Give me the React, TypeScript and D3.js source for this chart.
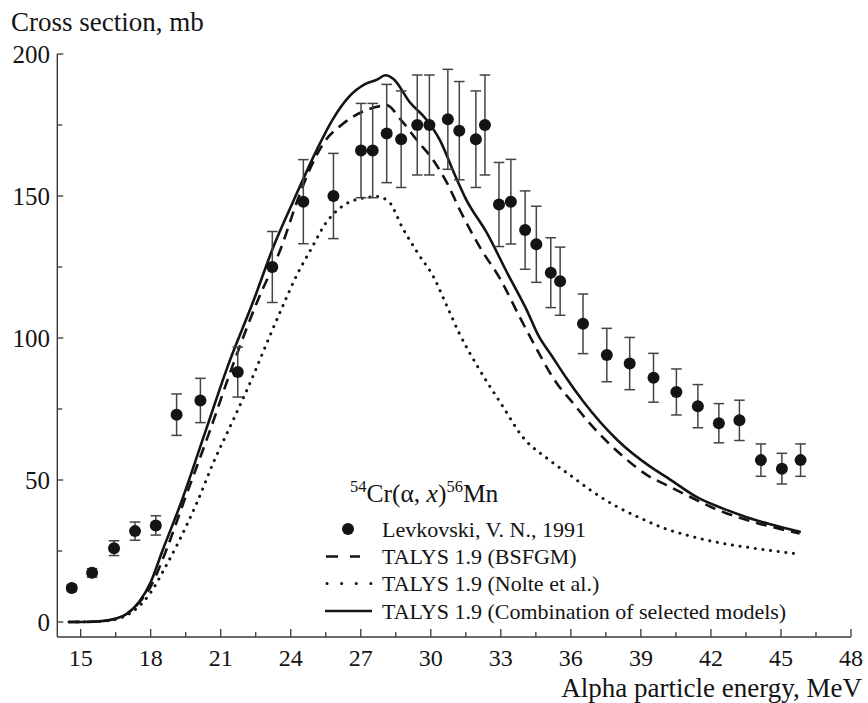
import React from "react";
import * as d3 from "d3";

// Experimental data: Levkovski, V. N., 1991
const expE = [14.62, 15.49, 16.43, 17.33, 18.22, 19.11, 20.13, 21.73, 23.21, 24.54, 25.83, 27.01, 27.51, 28.11, 28.73, 29.42, 29.94, 30.73, 31.22, 31.93, 32.32, 32.92, 33.43, 34.04, 34.52, 35.14, 35.54, 36.52, 37.54, 38.52, 39.54, 40.52, 41.44, 42.34, 43.22, 44.14, 45.04, 45.84];
const expSigma = [12, 17.3, 26, 32, 34, 73, 78, 88, 125, 148, 150, 166, 166, 172, 170, 175, 175, 177, 173, 170, 175, 147, 148, 138, 133, 123, 120, 105, 94, 91, 86, 81, 76, 70, 71, 57, 54, 57];
const expErr = [1, 1.5, 2.6, 3.2, 3.4, 7.3, 7.8, 8.8, 12.5, 14.8, 15, 16.6, 16.6, 17.3, 17, 17.6, 17.6, 17.6, 17.3, 17, 17.6, 14.8, 14.9, 13.8, 13.4, 12.3, 12, 10.5, 9.4, 9.2, 8.6, 8.1, 7.6, 6.9, 7.1, 5.7, 5.4, 5.7];

// TALYS 1.9 (Combination of selected models)
const combE = [14.5, 15.5, 16.0, 16.5, 17.0, 17.5, 18.0, 18.5, 19.3, 20.3, 21.3, 22.4, 23.3, 24.1, 25.1, 25.8, 26.5, 27.2, 27.7, 28.05, 28.4, 29.1, 29.8, 30.4, 31.0, 31.5, 32.4, 33.3, 34.1, 34.6, 35.2, 35.8, 36.5, 38.0, 39.4, 40.1, 41.5, 42.5, 43.5, 44.5, 45.85];
const combV = [0, 0.1, 0.4, 1.2, 3, 7, 14, 25, 42, 66, 90, 113, 133, 148, 166, 177, 185, 189.5, 191, 192.5, 191.2, 183, 177, 169.5, 158, 149, 137, 122.5, 110, 101, 93.5, 86, 78, 64, 54.7, 51, 43.5, 40, 37, 34.5, 31.7];

// TALYS 1.9 (BSFGM)
const bsE = [14.5, 15.5, 16.0, 16.5, 17.0, 17.5, 18.0, 18.7, 19.45, 20.5, 21.5, 22.6, 23.55, 24.4, 24.85, 25.4, 26.25, 27.25, 27.7, 28.1, 28.7, 29.4, 30.1, 30.7, 31.25, 32.1, 33.0, 33.8, 34.25, 35.4, 36.1, 36.8, 37.55, 38.25, 39.25, 40.1, 41.1, 42.0, 43.0, 44.0, 45.0, 45.8];
const bsV = [0, 0.1, 0.4, 1.1, 3, 6.8, 12.5, 26, 43, 66.5, 90, 113.5, 131, 151, 160, 168.5, 175.5, 180.3, 181.4, 182, 177, 169.7, 162.7, 154.5, 145, 132, 120.4, 107.5, 100.5, 84, 77, 70, 63.5, 58.2, 51.8, 48.2, 44.1, 40.5, 37.3, 34.8, 32.7, 31.2];

// TALYS 1.9 (Nolte et al.)
const noE = [14.5, 15.5, 16.0, 16.5, 17.0, 17.5, 17.97, 18.6, 19.2, 20.0, 20.7, 21.5, 22.3, 23.0, 23.75, 24.25, 24.85, 25.5, 26.4, 27.05, 27.7, 28.2, 28.8, 29.45, 30.15, 30.65, 31.2, 32.0, 33.0, 34.0, 35.0, 36.0, 37.0, 38.0, 39.0, 40.0, 41.0, 42.0, 43.0, 44.0, 45.0, 45.7];
const noV = [0, 0.1, 0.3, 0.9, 2.5, 5.5, 10, 18.9, 28.3, 42.4, 56.4, 70.5, 85, 98.7, 113, 122, 131, 140.4, 147.4, 149.2, 149.8, 148, 138.6, 129.8, 121, 112, 102, 90, 77, 64.5, 57.5, 51.5, 45.5, 40.5, 36.5, 33, 30.5, 28.5, 27, 25.8, 24.7, 24];

const xMajorTicks = [15, 18, 21, 24, 27, 30, 33, 36, 39, 42, 45, 48];
const xMinorTicks = [16.5, 19.5, 22.5, 25.5, 28.5, 31.5, 34.5, 37.5, 40.5, 43.5, 46.5];
const yMajorTicks = [0, 50, 100, 150, 200];
const yMinorTicks = [25, 75, 125, 175];

const legendLabels = [
  "Levkovski, V. N., 1991",
  "TALYS 1.9 (BSFGM)",
  "TALYS 1.9 (Nolte et al.)",
  "TALYS 1.9 (Combination of selected models)",
];

const FONT = "'Liberation Serif', 'Times New Roman', serif";
const INK = "#141414";
const AXIS = "#3a3a3a";

export default function App() {
  const x = d3.scaleLinear().domain([14, 48]).range([57.3, 851]);
  const y = d3.scaleLinear().domain([0, 200]).range([622, 54]);
  const yBottom = 637;

  const line = d3
    .line<[number, number]>()
    .x((d) => x(d[0]))
    .y((d) => y(d[1]))
    .curve(d3.curveMonotoneX);

  const pts = (es: number[], vs: number[]) => es.map((e, i) => [e, vs[i]] as [number, number]);

  const legX0 = 325;
  const legX1 = 372;
  const legText = 382;
  const legRows = [529, 556.5, 583.5, 611];

  return (
    <svg
      width={868}
      height={703}
      style={{ position: "absolute", left: 0, top: 0, background: "#fff" }}
      fontFamily={FONT}
    >
      <rect x={0} y={0} width={868} height={703} fill="#fff" />
      {/* Axes */}
      <line x1={x(14)} x2={x(14)} y1={y(200)} y2={yBottom} stroke={AXIS} strokeWidth={1.4} />
      <line x1={x(14)} x2={x(48)} y1={yBottom} y2={yBottom} stroke={AXIS} strokeWidth={1.4} />
      {yMajorTicks.map((t) => (
        <g key={"ym" + t}>
          <line x1={x(14)} x2={x(14) + 6} y1={y(t)} y2={y(t)} stroke={AXIS} strokeWidth={1.3} />
          <text x={50} y={y(t)} dy="0.35em" textAnchor="end" fontSize={25} fill={INK}>
            {t}
          </text>
        </g>
      ))}
      {yMinorTicks.map((t) => (
        <line key={"yn" + t} x1={x(14)} x2={x(14) + 5} y1={y(t)} y2={y(t)} stroke={AXIS} strokeWidth={1.3} />
      ))}
      {xMajorTicks.map((t) => (
        <g key={"xm" + t}>
          <line x1={x(t)} x2={x(t)} y1={yBottom} y2={yBottom - 8} stroke={AXIS} strokeWidth={1.3} />
          <text x={x(t)} y={666} textAnchor="middle" fontSize={24} fill={INK}>
            {t}
          </text>
        </g>
      ))}
      {xMinorTicks.map((t) => (
        <line key={"xn" + t} x1={x(t)} x2={x(t)} y1={yBottom} y2={yBottom - 5} stroke={AXIS} strokeWidth={1.3} />
      ))}

      {/* Axis titles */}
      <text x={11} y={31} fontSize={27} fill={INK}>
        Cross section, mb
      </text>
      <text x={862} y={697} textAnchor="end" fontSize={27} fill={INK}>
        Alpha particle energy, MeV
      </text>

      {/* Model curves */}
      <path d={line(pts(noE, noV)) || ""} fill="none" stroke={INK} strokeWidth={3} strokeDasharray="0.1 7.6" strokeLinecap="round" />
      <path d={line(pts(bsE, bsV)) || ""} fill="none" stroke={INK} strokeWidth={2.6} strokeDasharray="11 7" />
      <path d={line(pts(combE, combV)) || ""} fill="none" stroke={INK} strokeWidth={2.6} />

      {/* Experimental data */}
      {expE.map((e, i) => {
        const cx = x(e);
        const top = y(expSigma[i] + expErr[i]);
        const bot = y(expSigma[i] - expErr[i]);
        return (
          <g key={"p" + i}>
            <line x1={cx} x2={cx} y1={top} y2={bot} stroke="#444" strokeWidth={1.5} />
            <line x1={cx - 5.3} x2={cx + 5.3} y1={top} y2={top} stroke="#444" strokeWidth={1.5} />
            <line x1={cx - 5.3} x2={cx + 5.3} y1={bot} y2={bot} stroke="#444" strokeWidth={1.5} />
            <circle cx={cx} cy={y(expSigma[i])} r={6} fill={INK} />
          </g>
        );
      })}

      {/* Legend */}
      <text x={350} y={502} fontSize={25.5} fill={INK}>
        <tspan fontSize={16.5} dy={-10}>54</tspan>
        <tspan dy={10}>Cr(α, </tspan>
        <tspan fontStyle="italic">x</tspan>
        <tspan>)</tspan>
        <tspan fontSize={16.5} dy={-10}>56</tspan>
        <tspan dy={10}>Mn</tspan>
      </text>
      <circle cx={348} cy={legRows[0]} r={6} fill={INK} />
      <line x1={legX0 + 1} x2={360} y1={legRows[1]} y2={legRows[1]} stroke={INK} strokeWidth={2.6} strokeDasharray="12 12" />
      <line x1={legX0 + 2} x2={legX1} y1={legRows[2]} y2={legRows[2]} stroke={INK} strokeWidth={3} strokeDasharray="0.1 14.5" strokeLinecap="round" />
      <line x1={legX0} x2={legX1} y1={legRows[3]} y2={legRows[3]} stroke={INK} strokeWidth={2.6} />
      {legendLabels.map((l, i) => (
        <text key={l} x={legText} y={legRows[i] + 7.5} fontSize={22} fill={INK}>
          {l}
        </text>
      ))}
    </svg>
  );
}
